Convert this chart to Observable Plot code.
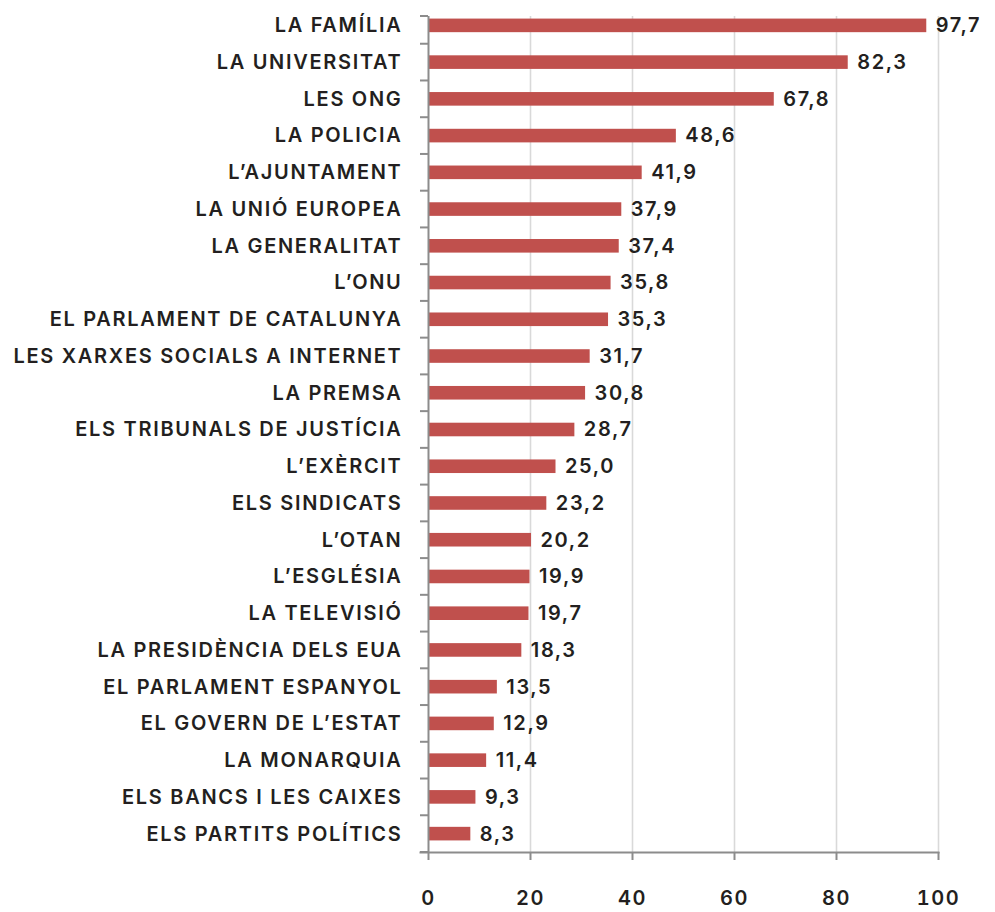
<!DOCTYPE html>
<html>
<head>
<meta charset="utf-8">
<script src="https://cdn.jsdelivr.net/npm/d3@7"></script>
<script src="https://cdn.jsdelivr.net/npm/@observablehq/plot@0.6"></script>
<style>
  html, body { margin: 0; padding: 0; background: #fff; }
  #chart svg text { font-weight: 600; letter-spacing: 1.6px; }
  #chart svg g[aria-label="y-axis tick label"] text { letter-spacing: 1.7px; }
</style>
</head>
<body>
<div id="chart"></div>
<script>
const categories = [
  "LA FAMÍLIA", "LA UNIVERSITAT", "LES ONG", "LA POLICIA", "L'AJUNTAMENT",
  "LA UNIÓ EUROPEA", "LA GENERALITAT", "L'ONU", "EL PARLAMENT DE CATALUNYA",
  "LES XARXES SOCIALS A INTERNET", "LA PREMSA", "ELS TRIBUNALS DE JUSTÍCIA",
  "L'EXÈRCIT", "ELS SINDICATS", "L'OTAN", "L'ESGLÉSIA", "LA TELEVISIÓ",
  "LA PRESIDÈNCIA DELS EUA", "EL PARLAMENT ESPANYOL", "EL GOVERN DE L'ESTAT",
  "LA MONARQUIA", "ELS BANCS I LES CAIXES", "ELS PARTITS POLÍTICS"
];
const values = [97.7, 82.3, 67.8, 48.6, 41.9, 37.9, 37.4, 35.8, 35.3, 31.7, 30.8, 28.7,
  25.0, 23.2, 20.2, 19.9, 19.7, 18.3, 13.5, 12.9, 11.4, 9.3, 8.3];
const xTicks = [0, 20, 40, 60, 80, 100];

const data = categories.map((c, i) => ({
  cat: c.replace(/'/g, "\u2019"),
  value: values[i],
  label: values[i].toFixed(1).replace(".", ",")
}));
const yDomain = data.map(d => d.cat);

const axisColor = "#8c8c8c";
const textColor = "#231f20";
const pi = 0.63;

const chart = Plot.plot({
  width: 995,
  height: 912,
  marginLeft: 428,
  marginRight: 57,
  marginTop: 7,
  marginBottom: 60,
  style: { fontFamily: "Inter, Lato, sans-serif", fontSize: "20px", color: textColor, background: "#fff" },
  x: { domain: [0, 100], axis: null },
  y: { domain: yDomain, paddingInner: pi, paddingOuter: pi / 2, round: false, axis: null },
  marks: [
    Plot.ruleX(xTicks.slice(1), { stroke: "#d9d9d9", strokeWidth: 1.6, insetTop: 9 }),
    Plot.barX(data, { x: "value", y: "cat", fill: "#c0504d" }),
    Plot.text(data, { x: "value", y: "cat", text: "label", textAnchor: "start", dx: 9, fill: textColor, fontSize: 20 }),
    Plot.ruleX([0], { stroke: axisColor, strokeWidth: 2, insetTop: 9 }),
    Plot.frame({ anchor: "bottom", stroke: axisColor, strokeWidth: 2, insetLeft: -8 }),
    Plot.axisX({ ticks: xTicks, tickSize: 8, tickPadding: 30, stroke: axisColor, strokeWidth: 2, fill: textColor, fontSize: 20, label: null, tickFormat: d => String(d) }),
    Plot.axisY({ tickSize: 0, tickPadding: 26, fill: textColor, fontSize: 20, label: null })
  ]
});

document.getElementById("chart").appendChild(chart);

// tick marks between category bands on the y axis
const ys = chart.scale("y");
const xs = chart.scale("x");
const svg = d3.select(chart);
const x0 = xs.range[0];
const r0 = ys.range[0], r1 = ys.range[1];
const n = ys.domain.length;
const step = (r1 - r0) / n;
const bounds = d3.range(1, n + 1).map(i => r0 + i * step);
bounds.unshift(r0 + 9);
svg.append("g")
  .attr("stroke", axisColor)
  .attr("stroke-width", 2)
  .selectAll("line")
  .data(bounds)
  .join("line")
  .attr("x1", x0 - 8)
  .attr("x2", x0)
  .attr("y1", d => d)
  .attr("y2", d => d);
</script>
</body>
</html>
